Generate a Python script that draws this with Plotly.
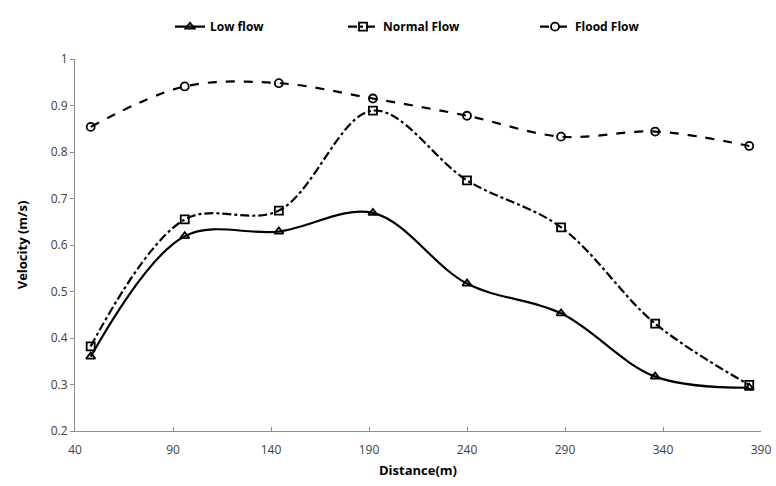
import plotly.graph_objects as go

distance = [48, 96, 144, 192, 240, 288, 336, 384]
low_flow = [0.360, 0.619, 0.629, 0.669, 0.517, 0.453, 0.317, 0.293]
normal_flow = [0.382, 0.655, 0.674, 0.889, 0.739, 0.638, 0.431, 0.299]
flood_flow = [0.854, 0.941, 0.948, 0.915, 0.878, 0.833, 0.844, 0.813]

x_ticks = [40, 90, 140, 190, 240, 290, 340, 390]
y_ticks = [0.2, 0.3, 0.4, 0.5, 0.6, 0.7, 0.8, 0.9, 1.0]
y_ticktext = ["0.2", "0.3", "0.4", "0.5", "0.6", "0.7", "0.8", "0.9", "1"]

FONT = "Open Sans"

fig = go.Figure()
series = [
    ("Low flow", low_flow, "solid", "triangle-up-open", "legend"),
    ("Normal Flow", normal_flow, "dashdot", "square-open", "legend2"),
    ("Flood Flow", flood_flow, "dash", "circle-open", "legend3"),
]
for name, vals, dash, sym, leg in series:
    fig.add_trace(go.Scatter(
        x=distance, y=vals, name=name, mode="lines+markers", showlegend=True,
        line=dict(color="black", width=2.2, dash=dash, shape="spline", smoothing=1.0),
        marker=dict(symbol=sym, size=8, color="black", line=dict(color="black", width=1.8)),
        legend=leg,
    ))

leg_common = dict(orientation="h", yanchor="middle", y=1.087, xanchor="left",
                  font=dict(family=FONT, size=12, color="black", weight="bold"),
                  bgcolor="rgba(0,0,0,0)", itemwidth=30)
fig.update_layout(
    width=776, height=486, showlegend=True,
    margin=dict(l=75, r=15, t=52, b=55),
    paper_bgcolor="white", plot_bgcolor="white",
    legend=dict(x=(170 - 75) / 686, **leg_common),
    legend2=dict(x=(343 - 75) / 686, **leg_common),
    legend3=dict(x=(535 - 75) / 686, **leg_common),
    xaxis=dict(range=[40, 390], tickvals=x_ticks, ticktext=[str(v) for v in x_ticks],
               automargin=False,
               showgrid=False, zeroline=False, showline=True, linecolor="#8c8c8c", linewidth=1,
               ticks="inside", ticklen=4, tickcolor="#8c8c8c", ticklabelstandoff=8,
               tickfont=dict(family=FONT, size=12, color="#404040"),
               title=dict(text="Distance(m)", font=dict(family=FONT, size=13, color="black", weight="bold"),
                          standoff=8)),
    yaxis=dict(range=[0.2, 1.0], tickvals=y_ticks, ticktext=y_ticktext,
               automargin=False,
               showgrid=False, zeroline=False, showline=True, linecolor="#8c8c8c", linewidth=1,
               ticks="outside", ticklen=4, tickcolor="#8c8c8c",
               tickfont=dict(family=FONT, size=12, color="#404040"),
               title=dict(text="Velocity (m/s)", font=dict(family=FONT, size=13, color="black", weight="bold"),
                          standoff=20)),
)
fig.write_html("out.html")
